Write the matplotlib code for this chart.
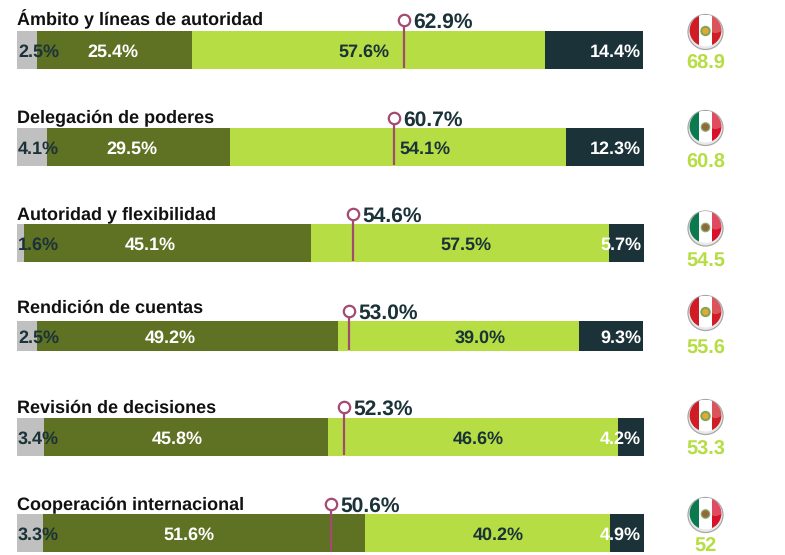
"""Stacked bars by governance dimension, with marker and country score per row."""

import matplotlib

matplotlib.use("Agg")
import matplotlib.pyplot as plt
from matplotlib.patches import Circle, Rectangle

plt.rcParams["font.family"] = ["Liberation Sans", "DejaVu Sans"]
plt.rcParams["text.hinting"] = "no_hinting"
plt.rcParams["text.hinting_factor"] = 1

W, H = 785, 555

# data
categories = ["Ámbito y líneas de autoridad", "Delegación de poderes", "Autoridad y flexibilidad",
              "Rendición de cuentas", "Revisión de decisiones", "Cooperación internacional"]
gray_labels = ["2.5%", "4.1%", "1.6%", "2.5%", "3.4%", "3.3%"]
olive_labels = ["25.4%", "29.5%", "45.1%", "49.2%", "45.8%", "51.6%"]
light_labels = ["57.6%", "54.1%", "57.5%", "39.0%", "46.6%", "40.2%"]
dark_labels = ["14.4%", "12.3%", "5.7%", "9.3%", "4.2%", "4.9%"]
marker_labels = ["62.9%", "60.7%", "54.6%", "53.0%", "52.3%", "50.6%"]
scores = ["68.9", "60.8", "54.5", "55.6", "53.3", "52"]
countries = ["PE", "MX", "MX", "PE", "PE", "MX"]

# drawn lengths (they do not follow the printed labels)
gray_w = [3.2, 4.8, 1.1, 3.2, 4.3, 4.1]
olive_w = [24.7, 29.2, 45.8, 48.0, 45.3, 51.4]
light_w = [56.3, 53.6, 47.5, 38.4, 46.3, 39.1]
dark_w = [15.6, 12.4, 5.6, 10.2, 4.1, 5.4]
marker_pos = [61.7, 60.1, 53.6, 52.9, 52.2, 50.0]

# layout, pixels
BAR_X0, PX_PER_UNIT = 17, 6.27
bar_top = [31, 128, 224, 321, 418, 514]
bar_bottom = [69, 166, 262, 351, 456, 552]
title_base = [25, 123, 219, 313, 413, 509]
marker_y = [20, 117.5, 214, 311, 407, 504]
olive_x = [113, 131.5, 150, 170, 177, 189]
light_x = [364, 425, 466, 480, 478, 498]
flag_y = [32, 128, 228.5, 313, 417, 515]
score_y = [61, 160, 258, 346, 447, 544]
FLAG_X, FLAG_R = 705.5, 17.5

GRAY, OLIVE, LIGHT, DARK, PINK = "#c0c0c0", "#5f7123", "#b6de44", "#1a3238", "#a34a73"


def draw_flag(ax, x, y, country):
    left, right = ("#0b7a4f", "#d8102a") if country == "MX" else ("#d01c24", "#d01c24")
    ax.add_patch(Circle((x, y), FLAG_R, fc="#e8e8e8", ec="#a8a8a8", lw=0.9, zorder=3))
    # stripes sit in a disc pushed up a little, which leaves the pale rim at the bottom
    clip = Circle((x, y - 1.5), FLAG_R - 1.6, transform=ax.transData)
    parts = [Rectangle((x - FLAG_R, y - FLAG_R), FLAG_R - 6.5, 2 * FLAG_R, fc=left, ec="none"),
             Rectangle((x - 6.5, y - FLAG_R), 13, 2 * FLAG_R, fc="white", ec="none"),
             Rectangle((x + 6.5, y - FLAG_R), FLAG_R, 2 * FLAG_R, fc=right, ec="none")]
    for p in parts:
        p.set_zorder(4)
        ax.add_patch(p)
        p.set_clip_path(clip)
    shine = Circle((x + 10, y - 8), 9, fc="white", alpha=0.25, ec="none", zorder=4)
    ax.add_patch(shine)
    shine.set_clip_path(clip)
    if country == "MX":
        ax.add_patch(Circle((x, y - 1), 4.2, fc="#8c6a3c", ec="#8fa86a", lw=0.9, zorder=5))
    else:
        ax.add_patch(Circle((x, y - 1), 4.2, fc="#e3a63a", ec="#7fa650", lw=1.4, zorder=5))


fig = plt.figure(figsize=(W / 100, H / 100), dpi=100)
ax = fig.add_axes([0, 0, 1, 1])
ax.set_xlim(-BAR_X0 / PX_PER_UNIT, (W - BAR_X0) / PX_PER_UNIT)
ax.set_ylim(H, 0)
ax.axis("off")

px = fig.add_axes([0, 0, 1, 1], facecolor="none")
px.set_xlim(0, W)
px.set_ylim(H, 0)
px.axis("off")

for i, name in enumerate(categories):
    y = (bar_top[i] + bar_bottom[i]) / 2
    h = bar_bottom[i] - bar_top[i]
    left = 0
    for w, colour in zip((gray_w[i], olive_w[i], light_w[i], dark_w[i]), (GRAY, OLIVE, LIGHT, DARK)):
        ax.barh(y, w, height=h, left=left, color=colour, linewidth=0)
        left += w

    px.text(17, title_base[i], name, fontsize=13, fontweight="bold", color="#111111", va="baseline")

    kw = dict(fontsize=13.3, fontweight="bold", va="center_baseline")
    px.text(18, y + 0.5, gray_labels[i], color=DARK, ha="left", **kw)
    px.text(olive_x[i], y + 0.5, olive_labels[i], color="white", ha="center", **kw)
    px.text(light_x[i], y + 0.5, light_labels[i], color=DARK, ha="center", **kw)
    px.text(641, y + 0.5, dark_labels[i], color="white", ha="right", **kw)

    mx = BAR_X0 + marker_pos[i] * PX_PER_UNIT
    px.plot([mx, mx], [marker_y[i], bar_bottom[i] - 1], color=PINK, lw=1.6, solid_capstyle="butt", zorder=2)
    px.plot(mx, marker_y[i], "o", ms=8.2, mfc="white", mec=PINK, mew=1.6, zorder=2)
    px.text(mx + 9.5, marker_y[i] + 0.5, marker_labels[i], fontsize=15, fontweight="bold", color=DARK,
            ha="left", va="center_baseline")

    draw_flag(px, FLAG_X, flag_y[i], countries[i])
    px.text(FLAG_X, score_y[i] + 0.5, scores[i], fontsize=14.2, fontweight="bold", color=LIGHT,
            ha="center", va="center_baseline")

fig.savefig("out.png", dpi=100)
